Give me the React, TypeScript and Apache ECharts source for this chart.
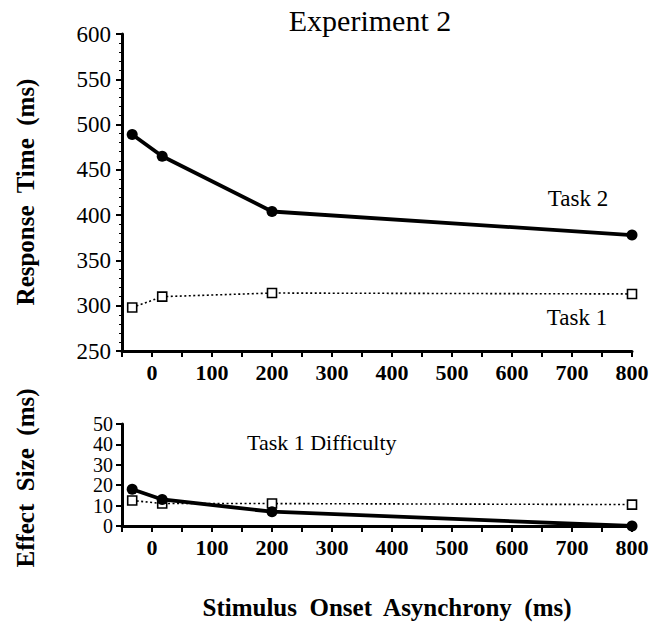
import React, { useEffect, useRef } from "react";
import * as echarts from "echarts";

const soa = [-33, 17, 200, 800];
const xTicks = [0, 100, 200, 300, 400, 500, 600, 700, 800];
const rtTask2 = [489, 465, 404, 378];
const rtTask1 = [298, 310, 314, 313];
const effectTask2 = [18, 13, 7, 0];
const effectTask1 = [12.5, 11, 11, 10.5];

const SERIF = "Liberation Serif";

const pairs = (xs: number[], ys: number[]) => xs.map((x, i) => [x, ys[i]]);

export default function App() {
  const ref = useRef<HTMLDivElement>(null);
  useEffect(() => {
    if (!ref.current) return;
    const chart = echarts.init(ref.current, undefined, { renderer: "svg" });
    const xAxisBase = (gridIndex: number) => ({
      type: "value" as const,
      gridIndex,
      min: -50,
      max: 800,
      interval: 50,
      axisLine: { onZero: false, lineStyle: { color: "#000", width: 3 } },
      axisTick: { length: 6, lineStyle: { color: "#000", width: 2 } },
      splitLine: { show: false },
      axisLabel: {
        color: "#000",
        fontFamily: SERIF,
        fontWeight: "bold",
        fontSize: 22,
        margin: 10,
        formatter: (v: number) => (xTicks.includes(v) ? String(v) : ""),
      },
    });
    const solid = {
      type: "line" as const,
      symbol: "circle",
      symbolSize: 11,
      clip: false,
      z: 5,
      itemStyle: { color: "#000" },
      lineStyle: { color: "#000", width: 3.8 },
    };
    const dotted = {
      type: "line" as const,
      symbol: "rect",
      symbolSize: 9,
      clip: false,
      z: 3,
      itemStyle: { color: "#fff", borderColor: "#000", borderWidth: 1.6 },
      lineStyle: { color: "#000", width: 1.6, type: [2, 2.5] as any },
    };
    const txt = (text: string, x: number, y: number, size: number, bold: boolean, align: string, rot = 0) => ({
      type: "text",
      x,
      y,
      rotation: rot,
      style: {
        text,
        fontFamily: SERIF,
        fontSize: size,
        fontWeight: bold ? "bold" : "normal",
        fill: "#000",
        textAlign: align,
        textVerticalAlign: "middle",
      },
    });
    chart.setOption({
      animation: false,
      backgroundColor: "#fff",
      textStyle: { fontFamily: SERIF },
      grid: [
        { left: 122, right: 28, top: 34, height: 317 },
        { left: 122, right: 28, top: 424, height: 102 },
      ],
      xAxis: [xAxisBase(0), xAxisBase(1)],
      yAxis: [
        {
          type: "value",
          gridIndex: 0,
          min: 250,
          max: 600,
          interval: 50,
          axisLine: { show: true, onZero: false, lineStyle: { color: "#000", width: 3 } },
          axisTick: { show: true, length: 6, lineStyle: { color: "#000", width: 2 } },
          minorTick: { show: true, splitNumber: 5, length: 3, lineStyle: { color: "#000", width: 1 } },
          splitLine: { show: false },
          axisLabel: { color: "#000", fontFamily: SERIF, fontSize: 23, margin: 11 },
        },
        {
          type: "value",
          gridIndex: 1,
          min: 0,
          max: 50,
          interval: 10,
          axisLine: { show: true, onZero: false, lineStyle: { color: "#000", width: 3 } },
          axisTick: { show: true, length: 6, lineStyle: { color: "#000", width: 2 } },
          splitLine: { show: false },
          axisLabel: {
            color: "#000",
            fontFamily: SERIF,
            fontSize: 20,
            lineHeight: 17,
            margin: 9,
            showMinLabel: true,
            showMaxLabel: true,
          },
        },
      ],
      series: [
        { ...dotted, name: "Task 1", xAxisIndex: 0, yAxisIndex: 0, data: pairs(soa, rtTask1) },
        { ...solid, name: "Task 2", xAxisIndex: 0, yAxisIndex: 0, data: pairs(soa, rtTask2) },
        { ...dotted, name: "Task 1 effect", xAxisIndex: 1, yAxisIndex: 1, data: pairs(soa, effectTask1) },
        { ...solid, name: "Task 2 effect", xAxisIndex: 1, yAxisIndex: 1, data: pairs(soa, effectTask2) },
      ],
      graphic: [
        txt("Experiment 2", 370, 20, 30, false, "center"),
        txt("Response  Time  (ms)", 25, 192, 25, true, "center", Math.PI / 2),
        txt("Effect  Size  (ms)", 25, 478, 25, true, "center", Math.PI / 2),
        txt("Stimulus  Onset  Asynchrony  (ms)", 387, 607, 25, true, "center"),
        txt("Task 2", 578, 198, 23, false, "center"),
        txt("Task 1", 577, 317, 23, false, "center"),
        txt("Task 1 Difficulty", 247, 442, 22, false, "left"),
      ],
    });
    return () => chart.dispose();
  }, []);
  return (
    <div
      ref={ref}
      style={{ position: "absolute", left: 0, top: 0, width: 660, height: 628 }}
    />
  );
}
